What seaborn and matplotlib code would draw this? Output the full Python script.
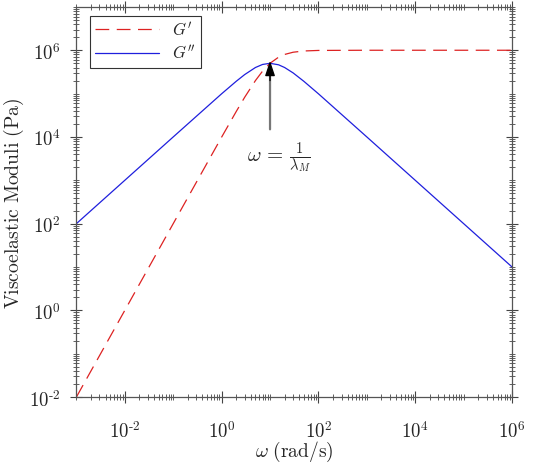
import numpy as np
import pandas as pd
import matplotlib
matplotlib.use("Agg")
import matplotlib.pyplot as plt
import matplotlib.ticker as mticker
import seaborn as sns

# values (log-log Maxwell curves)
omega = [1e-3, 1e-2, 1e-1, 1, 2, 3, 5, 7, 10, 15, 20, 30, 50, 100, 1e3, 1e4, 1e5, 1e6]
g_storage = [0.01, 1.0, 100, 9900, 38500, 82600, 200000, 329000, 500000,
             692000, 800000, 900000, 962000, 990000, 999900, 1e6, 1e6, 1e6]
g_loss = [100, 1000, 1e4, 99000, 192000, 275000, 400000, 470000, 500000,
          462000, 400000, 300000, 192000, 99000, 10000, 1000, 100, 10]

df = pd.DataFrame({"omega": omega * 2,
                   "G": g_storage + g_loss,
                   "kind": ["$G'$"] * len(omega) + ["$G''$"] * len(omega)})

sns.set_style("ticks")
plt.rcParams["mathtext.fontset"] = "cm"
plt.rcParams["font.family"] = ["DejaVu Serif"]

fig, ax = plt.subplots(figsize=(5.34, 4.64), dpi=100)
fig.subplots_adjust(left=0.143, right=0.959, top=0.983, bottom=0.142)

sns.lineplot(data=df, x="omega", y="G", hue="kind", style="kind",
             palette=["#dd2222", "#1f1fdd"], dashes=[(11, 6), ""],
             linewidth=0.9, ax=ax)

ax.set_xscale("log")
ax.set_yscale("log")
ax.set_xlim(1e-3, 1e6)
ax.set_ylim(1e-2, 1e7)

fmt = mticker.FuncFormatter(lambda v, p: r"$10^{\text{%d}}$" % round(np.log10(v)))
for axis in (ax.xaxis, ax.yaxis):
    axis.set_major_locator(mticker.LogLocator(base=100, numticks=20))
    axis.set_minor_locator(mticker.LogLocator(base=10, subs=np.arange(1, 10), numticks=50))
    axis.set_major_formatter(fmt)
    axis.set_minor_formatter(mticker.NullFormatter())

ax.tick_params(which="major", direction="inout", length=9, width=0.8, color="#444444",
               labelsize=13.5, top=True, right=True)
ax.tick_params(axis="x", which="major", pad=12)
ax.tick_params(axis="y", which="major", pad=7)
ax.tick_params(which="minor", direction="inout", length=5, width=0.6, color="#444444",
               top=True, right=True)
for s in ax.spines.values():
    s.set_visible(True)
    s.set_color("#555555")
    s.set_linewidth(0.9)

ax.set_xlabel(r"$\omega\ \mathrm{(rad/s)}$", fontsize=14)
ax.set_ylabel(r"$\mathrm{Viscoelastic\ Moduli\ (Pa)}$", fontsize=14.2)
ax.xaxis.set_label_coords(0.5, -0.108)
ax.yaxis.set_label_coords(-0.115, 0.5)

# arrow: gray shaft, black head
ax.annotate("", xy=(10, 2.5e5), xytext=(10, 1.5e4),
            arrowprops=dict(arrowstyle="-", color="#777777", lw=1.6,
                            shrinkA=0, shrinkB=0))
ax.annotate("", xy=(10, 5.7e5), xytext=(10, 2.0e5),
            arrowprops=dict(arrowstyle="-|>,head_length=0.9,head_width=0.3",
                            color="black", lw=1.0, shrinkA=0, shrinkB=0))
ax.text(3.3, 3.6e3, r"$\omega\,=\,\frac{1}{\lambda_M}$", ha="left", va="center", fontsize=15)

leg = ax.legend(loc="upper left", bbox_to_anchor=(0.032, 0.977), fontsize=12,
                frameon=True, fancybox=False, edgecolor="black", handlelength=3.8,
                borderaxespad=0, borderpad=0.3, labelspacing=0.3)
leg.get_frame().set_linewidth(0.8)

fig.savefig("out.png", dpi=100)
